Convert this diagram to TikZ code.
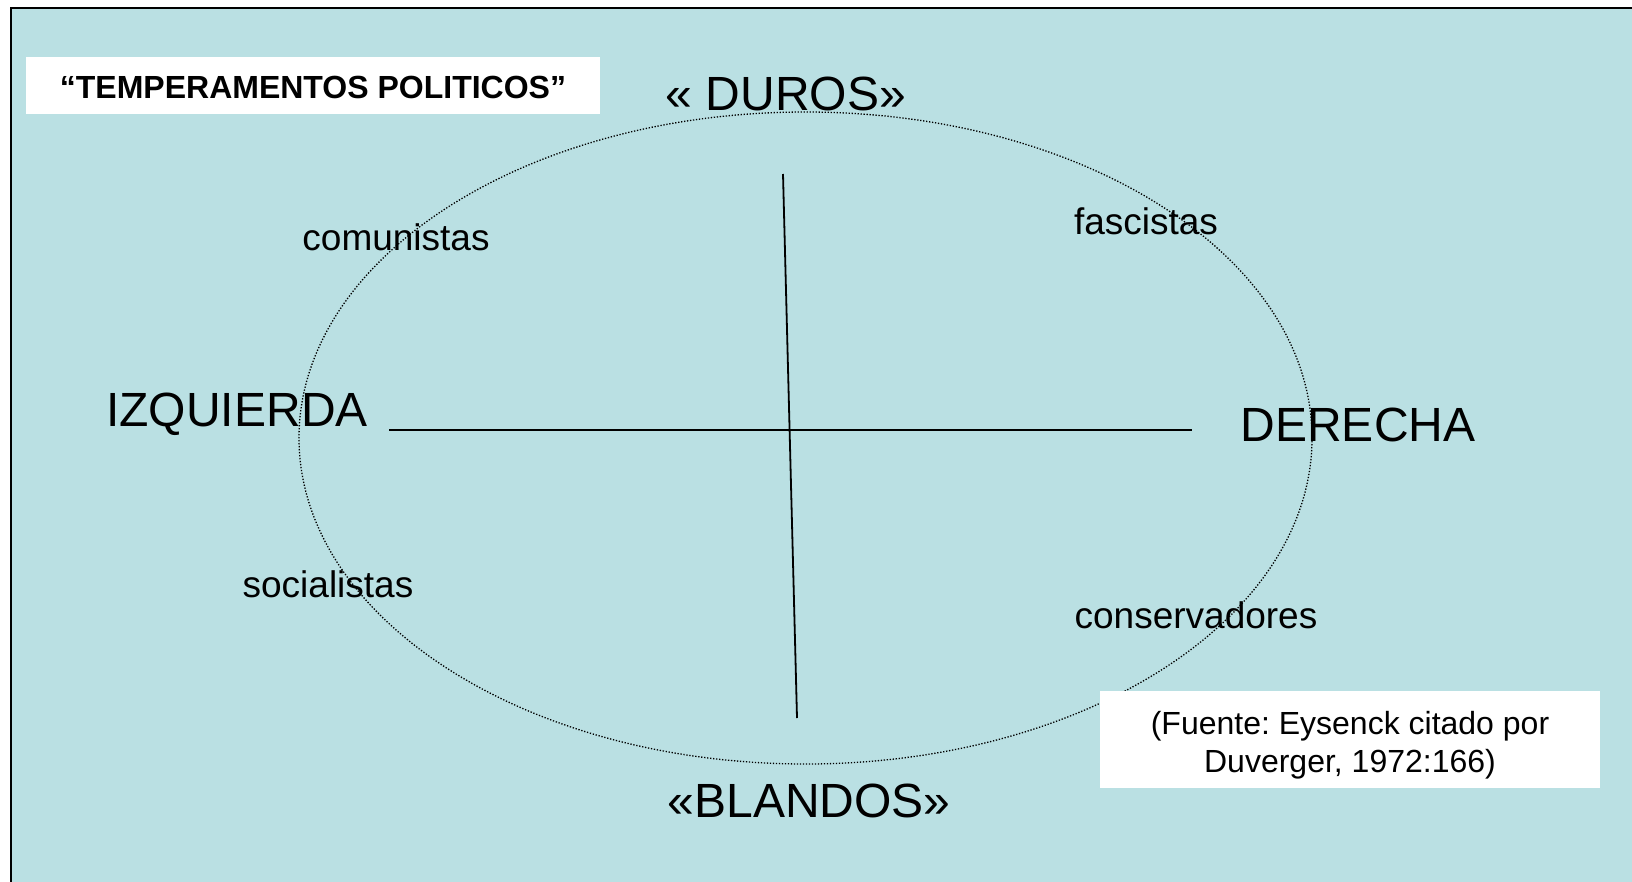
\documentclass[tikz,border=0pt]{standalone}
\usepackage{fontspec}
\setmainfont{Liberation Sans}
\frenchspacing
\definecolor{bgcyan}{RGB}{186,224,227}
\tikzset{
  big/.style={font=\fontsize{48}{56}\selectfont, inner sep=0pt, anchor=base},
  party/.style={font=\fontsize{37}{44}\selectfont, inner sep=0pt, anchor=base},
  srctext/.style={font=\fontsize{32}{38}\selectfont, inner sep=0pt, anchor=base},
  titletext/.style={font=\bfseries\fontsize{32}{38}\selectfont, inner sep=0pt, anchor=base},
  whitebox/.style={fill=white, draw=none, inner sep=0pt},
  axis/.style={line width=1.8pt, black},
  orbit/.style={line width=1.3pt, dash pattern=on 1.3pt off 1.7pt, black}
}
\begin{document}
\begin{tikzpicture}[x=1pt,y=-1pt]
\useasboundingbox (0,0) rectangle (1632,881);
% background panel
\fill[bgcyan] (11,8) rectangle (1640,890);
\draw[line width=2pt] (11,890) -- (11,8) -- (1640,8);
% title box
\node[whitebox, minimum width=574pt, minimum height=57pt] (titlebox) at (313,85.5) {};
\node[titletext] (title) at (313,98) {“TEMPERAMENTOS POLITICOS”};
% ellipse
\coordinate (c) at (805.5,438);
\draw[orbit] (c) ellipse [x radius=506.5, y radius=326];
% axes
\coordinate (hl) at (389,430);
\coordinate (hr) at (1192,430);
\coordinate (vt) at (783,174);
\coordinate (vb) at (797,718);
\draw[axis] (hl) -- (hr);
\draw[axis] (vt) -- (vb);
% axis labels
\node[big] (duros) at (786,110) {« DUROS»};
\node[big] (blandos) at (809,817) {«BLANDOS»};
\node[big] (izq) at (237,426) {IZQUIERDA};
\node[big] (der) at (1358,441) {DERECHA};
% parties
\node[party] (com) at (396,250) {comunistas};
\node[party] (fas) at (1146,234) {fascistas};
\node[party] (soc) at (328,597) {socialistas};
\node[party] (con) at (1196,628) {conservadores};
% source box
\node[whitebox, minimum width=500pt, minimum height=97pt] (srcbox) at (1350,739.5) {};
\node[srctext] (src1) at (1350,734) {(Fuente: Eysenck citado por};
\node[srctext] (src2) at (1350,772) {Duverger, 1972:166)};
\end{tikzpicture}
\end{document}
